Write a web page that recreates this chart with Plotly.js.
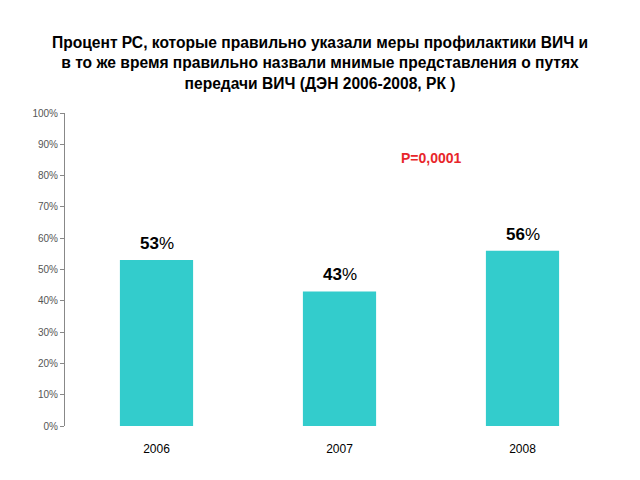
<!DOCTYPE html>
<html>
<head>
<meta charset="utf-8">
<script src="https://cdn.plot.ly/plotly-3.0.1.min.js"></script>
<style>html,body{margin:0;padding:0;background:#fff;}#chart{width:640px;height:480px;}</style>
</head>
<body>
<div id="chart"></div>
<script>
const years = ['2006', '2007', '2008'];
const values = [0.53, 0.43, 0.56];
const labels = ['53', '43', '56'];
const tickVals = [0, 0.1, 0.2, 0.3, 0.4, 0.5, 0.6, 0.7, 0.8, 0.9, 1.0];
const tickText = ['0%', '10%', '20%', '30%', '40%', '50%', '60%', '70%', '80%', '90%', '100%'];
const titleText = 'Процент РС, которые правильно указали меры профилактики ВИЧ и<br>в то же время правильно назвали мнимые представления о путях<br>передачи ВИЧ (ДЭН 2006-2008, РК )';
const pText = 'P=0,0001';

const font = 'Liberation Sans, Arial, sans-serif';

const trace = {
  type: 'bar',
  x: years,
  y: values,
  marker: {color: '#33CCCC', line: {width: 0}},
  hoverinfo: 'none'
};

const barLabels = years.map((yr, i) => ({
  x: i, y: values[i], xref: 'x', yref: 'y',
  text: '<b>' + labels[i] + '</b>%',
  showarrow: false, xanchor: 'center', yanchor: 'bottom', yshift: 5,
  font: {family: font, size: 17, color: '#000'}
}));

const layout = {
  width: 640, height: 480,
  margin: {l: 65, r: 26, t: 113, b: 54},
  paper_bgcolor: '#fff', plot_bgcolor: '#fff',
  bargap: 0.6,
  showlegend: false,
  title: {
    text: '<b>' + titleText + '</b>',
    font: {family: font, size: 15.6, color: '#000'},
    x: 0.5, xanchor: 'center', y: 0.9, yanchor: 'top'
  },
  xaxis: {
    type: 'category',
    range: [-0.5, 2.5],
    showline: false, showgrid: false, zeroline: false,
    ticks: '',
    tickfont: {family: font, size: 12, color: '#000'},
    ticklabelstandoff: 14
  },
  yaxis: {
    range: [0, 1],
    tickvals: tickVals, ticktext: tickText,
    showline: true, linecolor: '#888', linewidth: 1,
    ticks: 'outside', ticklen: 4, tickcolor: '#888',
    showgrid: false, zeroline: false,
    tickfont: {family: font, size: 10, color: '#555'}
  },
  annotations: barLabels.concat([{
    text: '<b>' + pText + '</b>',
    xref: 'paper', yref: 'paper',
    x: 0.667, y: 0.855, xanchor: 'center', yanchor: 'middle',
    showarrow: false,
    font: {family: font, size: 14, color: '#E8262B'}
  }])
};

Plotly.newPlot('chart', [trace], layout, {displayModeBar: false, staticPlot: true});
</script>
</body>
</html>
